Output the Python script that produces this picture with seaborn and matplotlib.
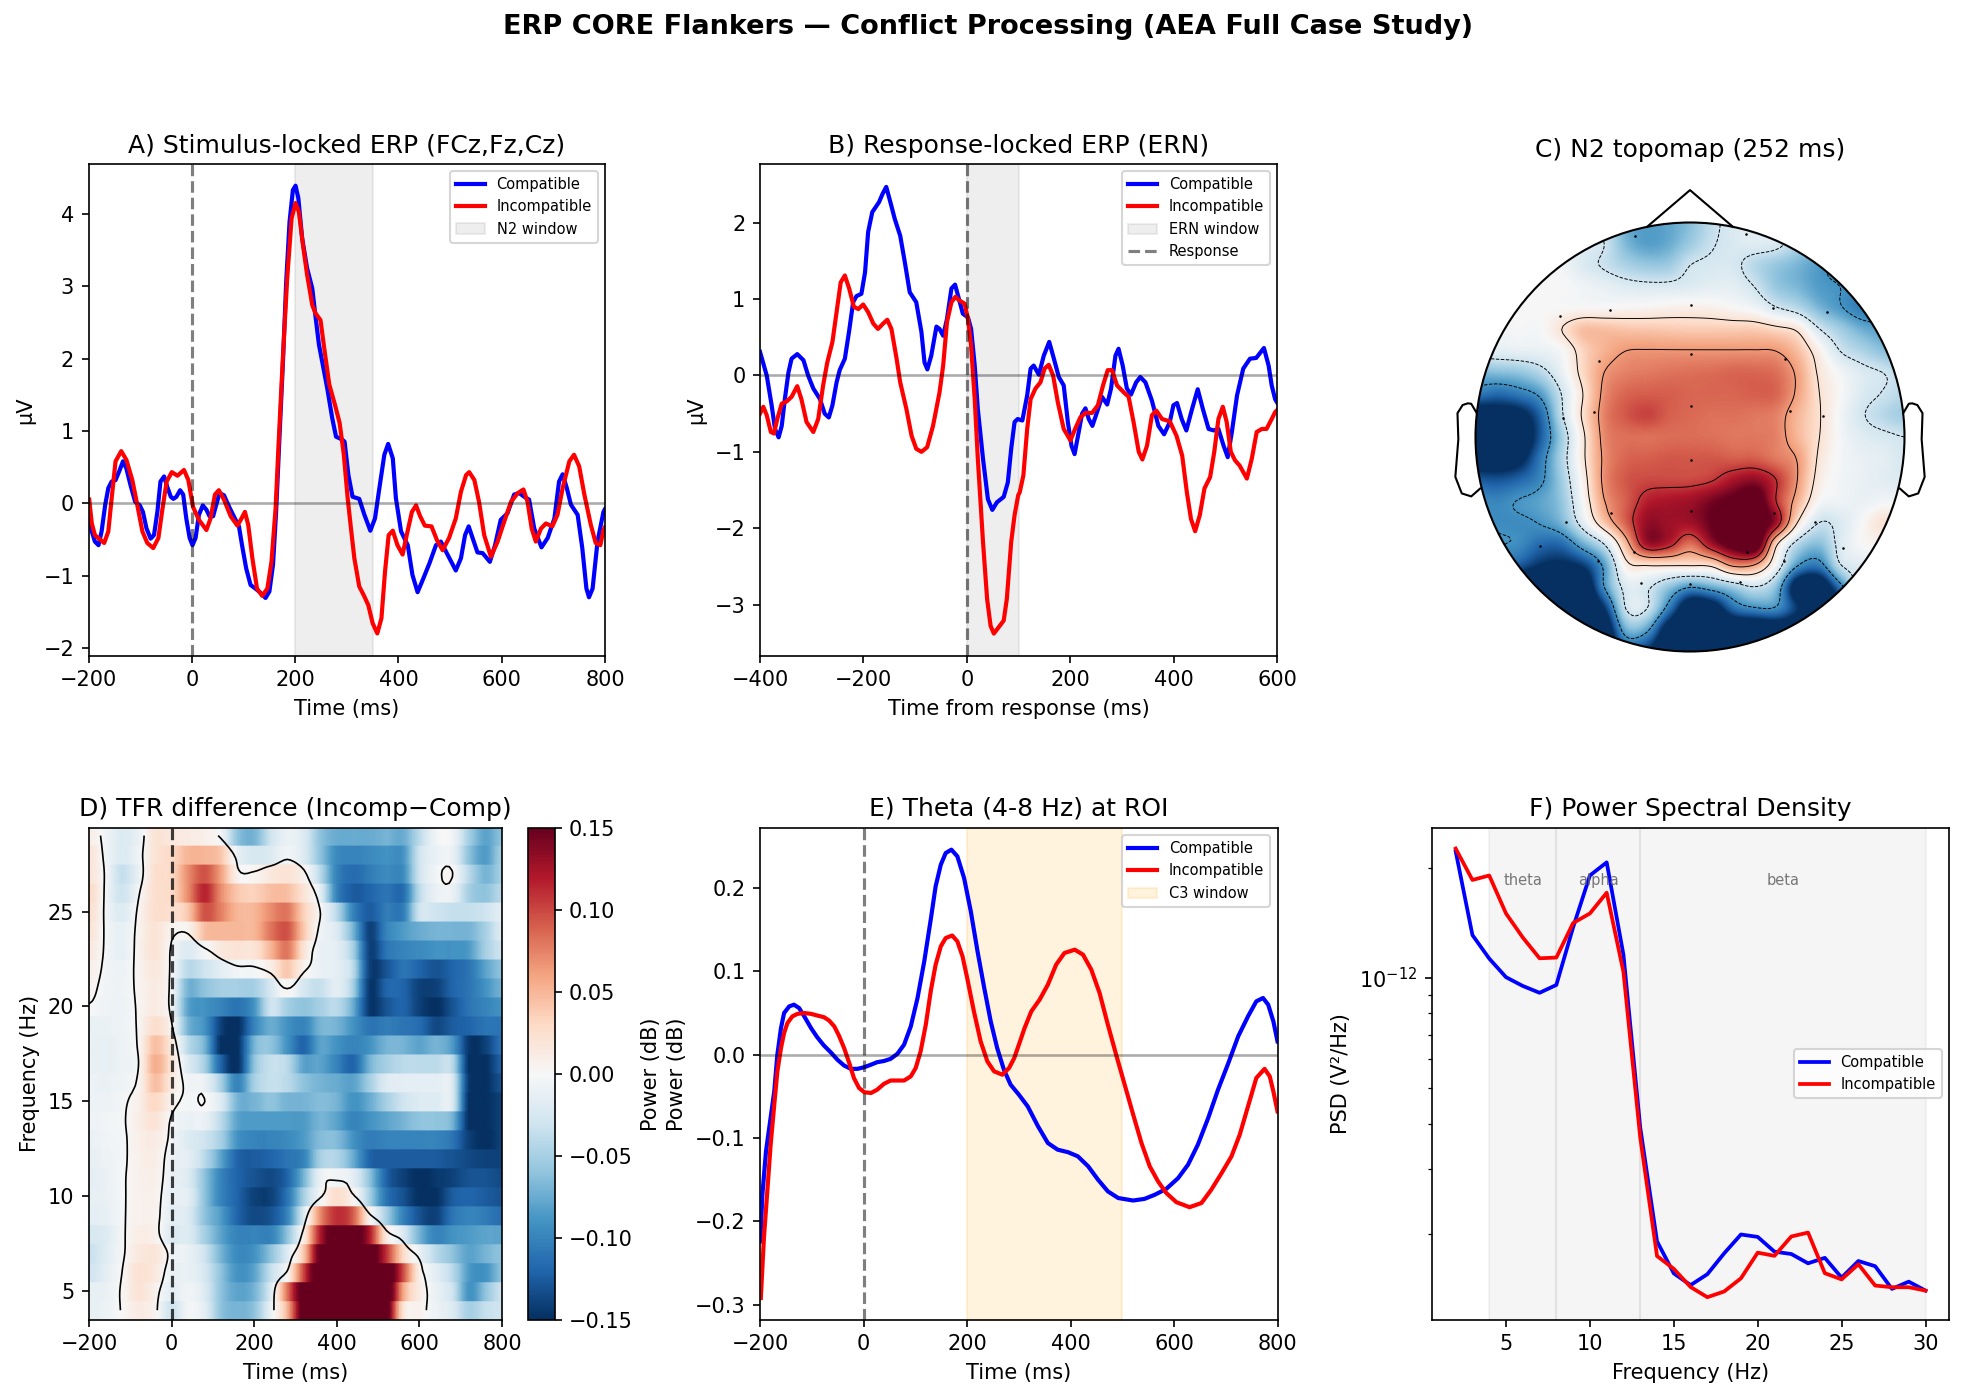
import numpy as np
import matplotlib
matplotlib.use("Agg")
import matplotlib.pyplot as plt
from matplotlib.patches import Circle
from matplotlib.ticker import NullFormatter
import seaborn as sns

W, H, DPI = 1963, 1397, 150

# ---- Panel A: stimulus-locked ERP (ms, microvolts) ----
a_comp_t = [-199,-194,-188,-181,-175,-168,-162,-155.5,-148,-141,-133.5,-127,-119,-110,-101,-95,-88,-80,-73.5,-67,-61,-54,-48,-41,-36,-30,-23,-17,-11,-4.5,1,7,13.5,21,28,34,41,47,53.5,62,72,81,91,97,105,113.5,123,133,142.5,150,157,163,170,176,182.5,189,195.5,200.6,206,213.5,223,233,239,246,253.5,262,271.6,279,291,295.6,303,311,324,334,345.5,354.5,363,372.6,380,389,395,405,418,427,437,447,460,472.6,482,495,511,521,529,536,543.5,553,563,577,587,598,611,624,634,643.5,653,663,677,689,702,711,718,726,734,747,756,764,769,776,785.5,797,800]
a_comp_v = [-.16,-.39,-.53,-.58,-.39,-.02,.21,.3,.32,.44,.58,.48,.25,.02,-.03,-.12,-.35,-.49,-.44,-.12,.3,.37,.23,.09,.06,.09,.18,.12,-.21,-.48,-.58,-.48,-.16,-.03,-.09,-.18,-.18,-.02,.14,.11,-.05,-.18,-.32,-.58,-.9,-1.13,-1.18,-1.24,-1.31,-1.22,-.85,-.12,.99,1.91,3.06,3.89,4.33,4.39,4.22,3.66,3.25,2.97,2.6,2.19,1.91,1.59,1.18,.92,.88,.85,.39,.09,.06,-.16,-.38,-.21,.21,.67,.82,.62,.07,-.39,-.58,-.99,-1.23,-1.06,-.83,-.58,-.53,-.71,-.93,-.76,-.44,-.32,-.48,-.68,-.69,-.81,-.58,-.23,-.14,.12,.14,.09,.05,-.35,-.61,-.48,-.21,.3,.4,.21,-.02,-.16,-.62,-1.18,-1.3,-1.18,-.53,-.12,-.08]
a_incomp_t = [-199,-194,-188,-180,-170,-162,-155.5,-148,-137,-127,-115.5,-106,-96,-86.5,-75,-65,-57,-49,-39,-28,-15.5,-7,2,13.5,28,36,44.5,52,62,75,88,96,102.6,109,117,126,136,146,154,162,168,176,184.5,193,200.6,207,215,223,233,239,249,257,266,277,286,294,301.6,308,314.5,324,334,341.6,350,359,367,374,381,389,398,408,416,426,434,442,451,464,474.5,485.5,498,511,521,531,537,547,556,566,579,592,605,618,631,642,650,658,666,676,685.5,698,708,718,731,740,750,760,772.6,782,791,797,800]
a_incomp_v = [.05,-.28,-.44,-.49,-.55,-.39,.07,.58,.72,.6,.32,-.02,-.39,-.55,-.62,-.48,-.07,.3,.43,.38,.46,.32,-.05,-.23,-.37,-.21,.12,.18,.05,-.18,-.31,-.21,-.12,-.3,-.76,-1.18,-1.28,-1.18,-.81,-.07,.85,2.0,3.11,3.94,4.15,4.03,3.57,3.16,2.74,2.63,2.53,2.1,1.64,1.36,1.11,.68,.07,-.35,-.76,-1.15,-1.29,-1.41,-1.66,-1.8,-1.59,-.94,-.44,-.38,-.58,-.71,-.44,-.12,-.03,-.18,-.31,-.32,-.51,-.65,-.48,-.21,.16,.39,.43,.32,.02,-.44,-.74,-.53,-.25,.02,.14,.19,.02,-.35,-.53,-.35,-.28,-.32,-.16,.21,.58,.67,.51,.12,-.3,-.55,-.58,-.37,-.33]

# ---- Panel B: response-locked ERP ----
b_comp_t = [-400,-387,-377.5,-371,-364,-358,-352,-345,-339,-328,-316,-307,-297,-284,-275,-267,-260,-252,-246,-236,-228,-220,-213.5,-204,-197,-191,-183,-170,-163,-156,-148,-139.5,-129,-120,-110.6,-98,-88,-82,-76.5,-69,-59,-53,-46,-38.6,-30,-23,-15.4,-8,2,8,15,21,31,40.5,49,58,71,79,85.5,92,98,107,116.4,123,129,139,148.5,159,168,177.5,187,195,202,208,216,222.5,229,235.4,242.4,251.4,261,271,278.5,287,293,301,309,317,327,335,345,357.5,370,381,392,399,406,415,424,435,446,456,467,477,486,496,504,512,522,534,547,559,574,583,589,595.6,600]
b_comp_v = [.31,0,-.39,-.7,-.81,-.66,-.31,.04,.22,.28,.2,0,-.17,-.31,-.5,-.55,-.39,-.09,.07,.22,.57,.96,1.04,1.07,1.35,1.88,2.14,2.27,2.38,2.47,2.27,2.05,1.83,1.48,1.09,.96,.57,.17,.08,.26,.64,.61,.52,.74,1.14,1.19,1.0,.81,.76,.61,.13,-.44,-1.09,-1.62,-1.76,-1.66,-1.59,-1.4,-.96,-.61,-.57,-.59,-.26,.09,.13,.01,.26,.44,.22,-.02,-.13,-.61,-.92,-1.03,-.74,-.5,-.43,-.57,-.66,-.48,-.28,-.38,-.17,.26,.35,.13,-.17,-.25,-.09,-.02,-.09,-.33,-.66,-.77,-.61,-.39,-.36,-.57,-.72,-.44,-.18,-.44,-.7,-.72,-.7,-.92,-1.07,-.74,-.26,.09,.22,.23,.36,.13,-.13,-.31,-.36]
b_incomp_t = [-400,-393.6,-387,-379,-373,-366.6,-358,-348.6,-339,-328,-320,-310,-297,-287.5,-278,-270,-260,-252,-244,-236,-227.7,-218.6,-210,-200.6,-191,-181,-172,-162,-154,-146,-136,-129,-117,-107,-98,-88,-77,-65.6,-53,-46,-38.6,-30,-22.5,-14,-4.5,2,8,15,21,31,39,45.7,52,61,71,77,85.5,92,99,102,109,116.4,123,132.5,142,150,158,166.5,175.6,187,200,209,219,229,242,253,263,272,280.4,290,303,312.5,322,332,339,348,357.5,366,377,392,405,416,425,433,441,450,459,470,478,486,494.5,502,510,518,527,541,550.5,560,570,579,589,595.6,600]
b_incomp_v = [-.5,-.41,-.52,-.74,-.76,-.57,-.37,-.34,-.28,-.14,-.31,-.61,-.74,-.57,-.13,.17,.44,.83,1.22,1.31,1.14,.9,.87,.93,.83,.68,.61,.68,.73,.61,.22,-.09,-.44,-.79,-.96,-1.0,-.94,-.66,-.22,.13,.7,.96,1.03,.98,.94,.74,.39,-.31,-1.09,-2.18,-2.93,-3.28,-3.38,-3.3,-3.21,-2.93,-2.18,-1.83,-1.57,-1.53,-1.31,-.7,-.31,-.17,-.09,.09,.14,0,-.35,-.7,-.85,-.7,-.55,-.49,-.49,-.39,-.13,.07,.07,-.13,-.22,-.28,-.61,-1.0,-1.1,-.92,-.52,-.46,-.57,-.6,-.79,-1.05,-1.53,-1.88,-2.04,-1.83,-1.48,-1.33,-1.0,-.57,-.41,-.61,-1.0,-1.11,-1.18,-1.35,-1.09,-.74,-.7,-.7,-.57,-.48,-.45]

# ---- Panel C: scalp field on a head-centred grid (top row first) ----
topo_axis = [-1,-.9,-.8,-.7,-.6,-.5,-.4,-.3,-.2,-.1,0,.1,.2,.3,.4,.5,.6,.7,.8,.9,1]
topo_field = [
 [-.15,-.15,-.15,-.15,-.15, -.15,-.25,-.5,-.55,-.52, -.42, -.25,-.15,-.12,-.18,-.3, -.45,-.6,-.65,-.65,-.65],
 [-.07,-.07,-.07,-.07,-.07, -.12,-.2,-.45,-.55,-.5, -.36, -.22,-.15,-.12,-.15,-.3, -.45,-.6,-.65,-.65,-.65],
 [-.03,-.03,-.03,-.03,-.03, -.14,-.22,-.32,-.38,-.36, -.2, -.16,-.16,-.28,-.38,-.46, -.56,-.65,-.7,-.7,-.7],
 [-.01,-.01,-.01,-.01,0, -.04,-.08,-.13,-.15,-.15, -.13, -.1,-.1,-.2,-.38,-.46, -.56,-.6,-.68,-.7,-.7],
 [-.01,-.01,-.01,0,0, .01,.01,.02,.03,.05, .06, .05,.01,-.04,-.18,-.28, -.46,-.58,-.7,-.7,-.7],
 [-.03,-.03,-.01,-.01,.14, .3,.3,.28,.27,.26, .25, .25,.25,.25,.2,.12, -.18,-.35,-.49,-.56,-.56],
 [-.11,-.1,-.08,-.07,-.01, .22,.35,.43,.44,.44, .44, .44,.44,.44,.43,.3, .05,-.2,-.31,-.42,-.49],
 [-.45,-.42,-.39,-.28,-.07, .2,.43,.5,.52,.54, .55, .56,.58,.58,.55,.4, .12,-.03,-.14,-.2,-.28],
 [-.7,-.77,-.7,-.56,-.2, .14,.47,.58,.6,.6, .58, .58,.58,.6,.58,.4, .15,0,-.14,-.21,-.28],
 [-1.2,-1.15,-1.1,-.8,-.24, .17,.5,.62,.68,.6, .57, .55,.55,.53,.5,.33, .16,-.03,-.18,-.28,-.35],
 [-1.3,-1.3,-1.25,-.85,-.35, .1,.48,.55,.55,.56, .56, .55,.53,.53,.5,.33, .15,-.02,-.12,-.16,-.2],
 [-1.2,-1.2,-1.1,-.72,-.31, .1,.46,.58,.6,.62, .62, .62,.6,.6,.52,.42, .12,-.02,-.07,-.1,-.17],
 [-.84,-.87,-.8,-.65,-.35, .05,.47,.62,.66,.66, .66, .7,.82,.88,.72,.43, .08,-.03,-.07,-.11,-.14],
 [-.63,-.66,-.59,-.53,-.39, 0,.42,.6,.78,.82, .85, .95,1.05,1.15,.72,.35, 0,-.04,-.07,-.03,-.03],
 [-.6,-.63,-.63,-.59,-.46, -.11,.28,.6,.88,.85, .85, 1,1.2,1.2,.85,.143, -.2,-.14,0,.14,.1],
 [-.56,-.59,-.63,-.77,-.77, -.49,-.2,.33,.85,.78, .55, .85,1.1,1.2,.2,-.28, -.42,-.14,0,.03,.03],
 [-.7,-.77,-.84,-1.0,-1.05, -.95,-.55,.07,.14,.143, .143, .17,.45,.4,-.04,-.59, -.7,-.22,-.11,-.07,-.07],
 [-1.26,-1.26,-1.33,-1.4,-1.4, -1.3,-.6,-.14,-.17,-.39, -.59, -.49,-.35,-.21,-.42,-1.19, -1.26,-.7,-.14,-.14,-.14],
 [-1.4,-1.4,-1.4,-1.4,-1.4, -1.4,-.98,-.2,-.2,-.7, -1.26, -1.19,-.77,-.63,-.63,-.98, -1.26,-1.26,-.7,-.42,-.42],
 [-1.4,-1.4,-1.4,-1.4,-1.4, -1.4,-1.26,-.49,-.56,-1.19, -1.4, -1.4,-1.33,-1.33,-1.26,-1.26, -1.26,-1.26,-1.26,-1.26,-1.26],
 [-1.4,-1.4,-1.4,-1.4,-1.4, -1.4,-1.4,-.84,-.98,-1.4, -1.4, -1.4,-1.4,-1.4,-1.4,-1.4, -1.4,-1.4,-1.4,-1.4,-1.4],
]
topo_levels = [-.6, -.2, .143, .429, .714]
sensor_x = [-.258,.263,-.372,-.608,.003,.387,.638,-.425,.003,.445,-.449,-.591,.003,.467,.619,.003,-.369,-.579,.003,.39,.585,-.7,.712,-.263,.266,-.431,.44,-.227,.232,.002]
sensor_y = [.938,.947,.591,.563,.616,.602,.583,.356,.389,.364,.117,.089,.145,.12,.096,-.107,-.355,-.398,-.344,-.355,-.397,-.51,-.516,-.535,-.537,-.579,-.579,-.68,-.677,-.683]
ear_x = [.994,1.02,1.036,1.06,1.084,1.08,1.094,1.064,1.02,.978]
ear_y = [.111,.155,.157,.149,.111,-.011,-.186,-.263,-.277,-.24]
nose_x = [-.2,0,.2]
nose_y = [.98,1.151,.98]

# ---- Panel D: time-frequency difference, top row = 29 Hz ----
tfr_times = [-200,-160,-120,-80,-40,0,40,80,120,160,200,240,280,320,360,400,440,480,520,560,600,640,680,720,760,800]
tfr_freqs = [29,28,27,26,25,24,23,22,21,20,19,18,17,16,15,14,13,12,11,10,9,8,7,6,5,4]
tfr_diff = [
 [.01,-.005,-.02,-.01,.02,.015,.012,.008,-.005,-.06,-.07,-.03,-.01,-.02,-.06,-.075,-.075,-.075,-.07,-.075,-.04,-.005,-.005,-.05,-.08,-.06],
 [.02,-.004,-.02,-.006,.02,.03,.05,.05,.04,-.01,-.025,-.02,-.005,-.02,-.06,-.095,-.1,-.095,-.09,-.09,-.03,-.01,-.01,-.06,-.085,-.05],
 [.02,-.002,-.035,-.01,.025,.03,.07,.095,.06,.005,.003,.015,.02,.005,-.04,-.1,-.115,-.105,-.095,-.095,-.03,-.005,.0004,-.04,-.07,-.05],
 [.03,-.003,-.03,-.002,.025,.03,.07,.115,.07,.04,.035,.045,.045,.02,-.015,-.1,-.125,-.12,-.11,-.115,-.04,-.01,-.01,-.05,-.06,-.04],
 [.025,-.003,-.02,.003,.025,.025,.04,.095,.075,.05,.05,.07,.08,.035,.0,-.04,-.1,-.125,-.105,-.105,-.03,-.03,-.035,-.035,-.03,-.015],
 [.02,-.002,-.012,.004,.02,.005,.005,.045,.05,.05,.05,.08,.095,.04,-.005,-.02,-.07,-.14,-.1,-.085,-.075,-.07,-.07,-.07,-.05,-.02],
 [.015,-.002,-.012,.005,.02,-.002,-.02,-.003,.015,.02,.02,.05,.08,.02,-.01,-.015,-.05,-.14,-.11,-.1,-.095,-.09,-.09,-.085,-.05,-.03],
 [.01,-.003,-.008,.004,.015,-.003,-.04,-.03,-.015,-.004,-.003,.01,.04,.005,-.01,-.015,-.04,-.14,-.13,-.11,-.12,-.13,-.12,-.11,-.08,-.06],
 [.005,-.005,-.007,.003,.012,-.005,-.07,-.06,-.05,-.05,-.05,-.025,.003,-.025,-.035,-.015,-.05,-.145,-.12,-.12,-.14,-.14,-.12,-.11,-.09,-.07],
 [-.001,-.006,-.008,.002,.012,-.006,-.08,-.09,-.1,-.11,-.09,-.03,-.05,-.06,-.05,-.04,-.075,-.145,-.13,-.12,-.14,-.15,-.13,-.11,-.1,-.09],
 [-.01,-.01,-.007,.002,.025,.002,-.07,-.09,-.14,-.15,-.1,-.075,-.09,-.1,-.07,-.07,-.09,-.11,-.105,-.11,-.115,-.135,-.125,-.12,-.11,-.11],
 [-.01,-.012,-.008,.002,.045,.015,-.04,-.07,-.15,-.15,-.07,-.06,-.09,-.12,-.08,-.09,-.1,-.09,-.07,-.07,-.08,-.07,-.085,-.145,-.14,-.11],
 [-.01,-.012,-.008,.0,.055,.02,-.02,-.05,-.12,-.15,-.06,-.035,-.04,-.08,-.08,-.1,-.12,-.07,-.05,-.04,-.04,-.04,-.04,-.15,-.15,-.12],
 [-.008,-.01,-.006,.003,.045,.015,-.005,-.01,-.05,-.1,-.05,-.035,-.04,-.06,-.07,-.075,-.08,-.05,-.02,-.015,-.015,-.015,-.02,-.145,-.15,-.13],
 [-.008,-.008,-.003,.008,.03,.006,-.003,.0001,-.02,-.07,-.07,-.06,-.07,-.07,-.065,-.07,-.09,-.075,-.05,-.03,-.02,-.02,-.02,-.15,-.15,-.14],
 [-.007,-.005,-.002,.01,.02,-.002,-.01,-.01,-.04,-.08,-.085,-.085,-.085,-.085,-.07,-.08,-.1,-.09,-.08,-.07,-.06,-.06,-.07,-.15,-.15,-.14],
 [-.01,-.006,-.003,.008,.012,-.004,-.02,-.03,-.05,-.09,-.1,-.1,-.095,-.085,-.065,-.065,-.09,-.105,-.1,-.1,-.1,-.1,-.11,-.14,-.15,-.14],
 [-.012,-.008,-.003,.007,.01,-.008,-.015,-.04,-.08,-.12,-.125,-.12,-.11,-.1,-.05,-.045,-.075,-.12,-.125,-.125,-.125,-.125,-.13,-.135,-.14,-.14],
 [-.015,-.01,-.002,.006,.008,-.01,-.02,-.06,-.1,-.12,-.13,-.135,-.12,-.07,-.01,-.005,-.015,-.06,-.12,-.14,-.15,-.145,-.14,-.13,-.13,-.135],
 [-.012,-.01,-.002,.006,.006,-.012,-.015,-.06,-.1,-.12,-.14,-.14,-.11,-.05,-.004,.025,.004,-.05,-.11,-.13,-.15,-.15,-.125,-.12,-.125,-.13],
 [-.015,-.012,-.002,.006,.005,-.015,-.02,-.06,-.085,-.12,-.135,-.13,-.1,-.02,.07,.11,.09,.005,-.05,-.1,-.13,-.14,-.11,-.1,-.105,-.115],
 [-.025,-.02,-.003,.01,.006,-.02,-.02,-.05,-.08,-.1,-.1,-.1,-.06,.01,.12,.17,.17,.12,.015,-.02,-.07,-.1,-.09,-.085,-.08,-.08],
 [-.035,-.018,-.003,.015,.018,-.005,-.01,-.03,-.07,-.095,-.09,-.06,-.02,.04,.16,.18,.18,.17,.11,.03,-.01,-.04,-.06,-.08,-.07,-.06],
 [-.03,-.015,0,.022,.015,-.01,-.01,-.025,-.06,-.09,-.08,-.035,.003,.1,.19,.2,.2,.19,.18,.1,.01,-.015,-.04,-.085,-.09,-.06],
 [-.012,-.01,.002,.02,.006,-.015,-.005,-.02,-.06,-.08,-.07,-.02,.08,.17,.2,.2,.2,.2,.19,.06,.012,-.01,-.03,-.09,-.06,-.03],
 [-.012,-.008,.001,.012,.004,-.03,-.004,-.015,-.06,-.07,-.06,-.01,.05,.17,.2,.2,.2,.2,.17,.02,.006,-.008,-.02,-.05,-.035,-.03],
]

# ---- Panel E: theta power ----
e_comp_t = [-200,-196,-189,-173,-167,-160,-154,-144,-135,-125,-115,-102,-90,-77,-64,-51,-38,-25,-12,1,14,26,39,52,65,78,91,104,117,130,139,149,158.5,169.5,181,194,207,220,233,245.5,258,271,284,300,317,337,356,375,395,414,434,453,472,492,521,543,563,585,608,627,646,666,685,705,724,743,759,772,782,792,800]
e_comp_v = [-.224,-.168,-.116,-.044,0,.032,.05,.058,.06,.056,.046,.032,.021,.011,.003,-.006,-.013,-.017,-.017,-.015,-.012,-.009,-.0076,-.005,.001,.012,.034,.068,.112,.164,.202,.228,.242,.246,.238,.212,.172,.124,.08,.04,.008,-.018,-.036,-.048,-.062,-.086,-.106,-.114,-.117,-.122,-.134,-.15,-.164,-.172,-.175,-.173,-.168,-.161,-.148,-.132,-.108,-.076,-.042,-.01,.022,.046,.064,.068,.06,.04,.016]
e_incomp_t = [-199,-193,-186,-180,-173,-167,-160,-154,-147.5,-138,-128,-115,-102,-90,-77,-67,-57,-48,-38,-28,-19,-9,1,14,26,39,52,65,78,91,100.5,110,120,129.5,139,149,158.5,171,181,191,200,213,226,239,252,268,281,291,300,311,324,340,356,372,388,408,424,440,456,472,488,504.5,521,537,553,569,585,604.5,630,653,672,692,711,727,743,759,775,785,792,800]
e_incomp_v = [-.292,-.22,-.16,-.108,-.06,-.02,.008,.026,.038,.046,.049,.05,.049,.047,.045,.041,.034,.023,.008,-.01,-.028,-.04,-.045,-.046,-.042,-.035,-.031,-.031,-.031,-.026,-.016,.004,.036,.076,.108,.13,.14,.143,.136,.118,.092,.052,.016,-.008,-.02,-.024,-.016,-.004,.012,.032,.052,.066,.084,.108,.122,.126,.12,.102,.074,.036,0,-.036,-.072,-.106,-.134,-.152,-.166,-.177,-.183,-.178,-.162,-.142,-.122,-.096,-.062,-.028,-.017,-.026,-.044,-.068]

# ---- Panel F: power spectral density ----
psd_freqs = list(range(2, 31))
psd_comp = [2.22e-12,1.31e-12,1.13e-12,1.005e-12,9.51e-13,9.11e-13,9.57e-13,1.376e-12,1.906e-12,2.07e-12,1.157e-12,3.9e-13,1.906e-13,1.558e-13,1.447e-13,1.55e-13,1.767e-13,1.99e-13,1.96e-13,1.786e-13,1.76e-13,1.66e-13,1.718e-13,1.517e-13,1.684e-13,1.63e-13,1.413e-13,1.479e-13,1.398e-13]
psd_incomp = [2.258e-12,1.853e-12,1.906e-12,1.501e-12,1.29e-12,1.132e-12,1.137e-12,1.413e-12,1.501e-12,1.71e-12,1.038e-12,3.66e-13,1.738e-13,1.603e-13,1.43e-13,1.341e-13,1.39e-13,1.51e-13,1.775e-13,1.74e-13,1.965e-13,2.014e-13,1.56e-13,1.5e-13,1.65e-13,1.443e-13,1.428e-13,1.428e-13,1.398e-13]
psd_bands = [(4, 8, "theta"), (8, 13, "alpha"), (13, 30, "beta")]


def px_axes(fig, left, top, right, bottom):
    return fig.add_axes([left / W, 1 - bottom / H, (right - left) / W, (bottom - top) / H])


def two_curves(ax, t1, v1, t2, v2, lw=2.0):
    sns.lineplot(x=t1, y=v1, color="blue", linewidth=lw, label="Compatible",
                 estimator=None, sort=False, ax=ax)
    sns.lineplot(x=t2, y=v2, color="red", linewidth=lw, label="Incompatible",
                 estimator=None, sort=False, ax=ax)


def zero_line(ax):
    ax.axhline(0, color="k", alpha=0.33, linewidth=1.25)


def refine(arr, factor, axis):
    """Catmull-Rom resampling of a gridded field along one axis, for display."""
    a = np.moveaxis(np.asarray(arr, dtype=float), axis, 0)
    n = a.shape[0]
    pos = np.linspace(0, n - 1, (n - 1) * factor + 1)
    i = np.clip(np.floor(pos).astype(int), 0, n - 2)
    s = (pos - i).reshape((-1,) + (1,) * (a.ndim - 1))
    p0, p1 = a[np.clip(i - 1, 0, n - 1)], a[i]
    p2, p3 = a[i + 1], a[np.clip(i + 2, 0, n - 1)]
    out = 0.5 * (2 * p1 + (p2 - p0) * s + (2 * p0 - 5 * p1 + 4 * p2 - p3) * s ** 2
                 + (3 * p1 - p0 - 3 * p2 + p3) * s ** 3)
    return np.moveaxis(out, 0, axis)


TOP_ROW = (164.0, 655.7)
BOTTOM_ROW = (828.0, 1319.7)

fig = plt.figure(figsize=(W / DPI, H / DPI), dpi=DPI)
fig.suptitle("ERP CORE Flankers \u2014 Conflict Processing (AEA Full Case Study)",
             fontsize=13, fontweight="bold", x=0.5035, y=1 - 27 / H, va="center")

# A
ax = px_axes(fig, 88.7, TOP_ROW[0], 605, TOP_ROW[1])
two_curves(ax, a_comp_t, a_comp_v, a_incomp_t, a_incomp_v)
ax.axvspan(200, 350, color="gray", alpha=0.13, label="N2 window")
ax.axvline(0, color="k", alpha=0.5, linestyle="--", linewidth=1.5)
zero_line(ax)
ax.set(xlim=(-200, 800), ylim=(-2.108, 4.69), xlabel="Time (ms)", ylabel="\u03bcV")
ax.set_title("A) Stimulus-locked ERP (FCz,Fz,Cz)", fontsize=12, pad=5.5)
ax.legend(fontsize=7, loc="upper right")

# B
ax = px_axes(fig, 760, TOP_ROW[0], 1277.4, TOP_ROW[1])
two_curves(ax, b_comp_t, b_comp_v, b_incomp_t, b_incomp_v)
ax.axvspan(0, 100, color="gray", alpha=0.13, label="ERN window")
ax.axvline(0, color="k", alpha=0.5, linestyle="--", linewidth=1.5, label="Response")
zero_line(ax)
ax.set(xlim=(-400, 600), ylim=(-3.67, 2.77), xlabel="Time from response (ms)", ylabel="\u03bcV")
ax.set_title("B) Response-locked ERP (ERN)", fontsize=12, pad=5.5)
ax.legend(fontsize=7, loc="upper right")

# C: head-centred axes, one data unit equals the head radius
R, CX, CY = 214.5, 1690, 437
ax = px_axes(fig, CX - 1.13 * R, CY - 1.268 * R, CX + 1.13 * R, CY + 1.01 * R)
ax.axis("off")
clip = Circle((0, 0), 1.0, transform=ax.transData)
fine = refine(refine(topo_field, 6, 0), 6, 1)
half = 0.1 / 12
im = ax.imshow(fine, extent=(-1 - half, 1 + half, -1 - half, 1 + half), cmap="RdBu_r",
               vmin=-1, vmax=1, interpolation="bilinear", origin="upper", aspect="auto")
im.set_clip_path(clip)
fine_axis = np.linspace(-1, 1, fine.shape[0])
cs = ax.contour(fine_axis, fine_axis[::-1], fine, levels=topo_levels, colors="k", linewidths=0.45)
cs.set_clip_path(clip)
ax.add_patch(Circle((0, 0), 1.0, fill=False, color="k", linewidth=1.0))
ax.plot(nose_x, nose_y, color="k", linewidth=1.0)
ax.plot(ear_x, ear_y, color="k", linewidth=1.0)
ax.plot(-np.array(ear_x), ear_y, color="k", linewidth=1.0)
ax.scatter(sensor_x, sensor_y, s=1.5, color="k", linewidths=0, zorder=5)
ax.set_xlim(-1.13, 1.13)
ax.set_ylim(-1.01, 1.268)
ax.set_title("C) N2 topomap (252 ms)", fontsize=12, pad=4)

# D: rows stay flat in frequency, values blend only along time
ax = px_axes(fig, 89, BOTTOM_ROW[0], 502, BOTTOM_ROW[1])
Z = np.array(tfr_diff, dtype=float)[::-1]
freq_up = np.array(tfr_freqs[::-1], dtype=float)
Y_edges = np.column_stack([freq_up - 0.5, freq_up + 0.5]).ravel()
Z_time = refine(Z, 5, 1)
T_time = np.linspace(tfr_times[0], tfr_times[-1], Z_time.shape[1])
mesh = ax.pcolormesh(T_time, Y_edges, np.repeat(Z_time, 2, axis=0), cmap="RdBu_r",
                     vmin=-0.15, vmax=0.15, shading="gouraud", rasterized=True)
Z_fine = refine(Z_time, 6, 0)
F_fine = np.linspace(freq_up[0], freq_up[-1], Z_fine.shape[0])
ax.contour(T_time, F_fine, Z_fine, levels=[0], colors="k", linewidths=0.8)
ax.axvline(0, color="k", alpha=0.75, linestyle="--", linewidth=1.5)
ax.set(xlim=(-200, 800), ylim=(3.5, 29.4), xlabel="Time (ms)", ylabel="Frequency (Hz)")
ax.set_yticks([5, 10, 15, 20, 25])
ax.set_title("D) TFR difference (Incomp\u2212Comp)", fontsize=12)
cax = px_axes(fig, 527.5, BOTTOM_ROW[0], 554.5, BOTTOM_ROW[1])
cbar = fig.colorbar(mesh, cax=cax)
cbar.set_ticks([-.15, -.10, -.05, 0, .05, .10, .15])
cbar.set_label("Power (dB)")

# E
ax = px_axes(fig, 760.3, BOTTOM_ROW[0], 1277.5, BOTTOM_ROW[1])
two_curves(ax, e_comp_t, e_comp_v, e_incomp_t, e_incomp_v)
ax.axvspan(200, 500, color="orange", alpha=0.13, label="C3 window")
ax.axvline(0, color="k", alpha=0.5, linestyle="--", linewidth=1.5)
zero_line(ax)
ax.set(xlim=(-200, 800), ylim=(-0.318, 0.272), xlabel="Time (ms)", ylabel="Power (dB)")
ax.set_title("E) Theta (4-8 Hz) at ROI", fontsize=12)
ax.legend(fontsize=7, loc="upper right")

# F
ax = px_axes(fig, 1432, BOTTOM_ROW[0], 1949, BOTTOM_ROW[1])
two_curves(ax, psd_freqs, psd_comp, psd_freqs, psd_incomp, lw=1.8)
ax.set_yscale("log")
for lo, hi, name in psd_bands:
    ax.axvspan(lo, hi, color="gray", alpha=0.08)
    ax.text((lo + hi) / 2, 0.893, name, transform=ax.get_xaxis_transform(),
            ha="center", va="center", fontsize=7, color="dimgray", alpha=0.9)
ax.set(xlim=(0.59, 31.4), ylim=(1.164e-13, 2.57e-12), xlabel="Frequency (Hz)", ylabel="PSD (V\u00b2/Hz)")
ax.set_yticks([1e-12])
ax.yaxis.set_minor_formatter(NullFormatter())
ax.set_title("F) Power Spectral Density", fontsize=12)
ax.legend(fontsize=7, loc="center right")

fig.savefig("out.png", dpi=DPI)
